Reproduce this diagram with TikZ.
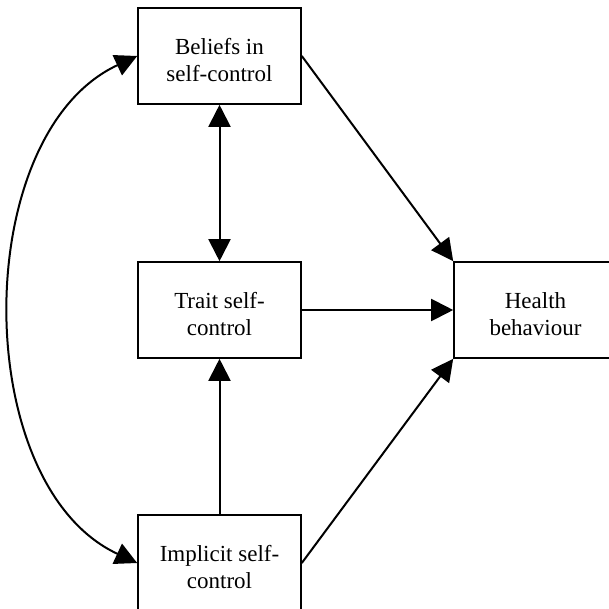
\documentclass[tikz,border=0pt]{standalone}
\usepackage{fontspec}
\setmainfont{Liberation Serif}
\usetikzlibrary{arrows.meta}

\begin{document}
\begin{tikzpicture}
[x=0.5pt,y=-0.5pt,
  boxDecorate/.style={shape=rectangle,draw,line width=0.8pt,minimum width=81.5pt,minimum height=48pt,
    inner sep=0pt,align=center,font=\fontsize{11.5}{13.5}\selectfont},
  lineDecorate/.style={line width=1pt,-{Triangle[length=11pt,width=11pt]}},
  bothDecorate/.style={line width=1pt,{Triangle[length=11pt,width=11pt]}-{Triangle[length=11pt,width=11pt]}}]
\useasboundingbox (0,0) rectangle (609,609);
%% boxes
\foreach \nodename/\x/\y/\txt in {
  bel/219.5/56/Beliefs in\\self-control,
  trait/219.5/310/Trait self-\\control,
  imp/219.5/563/Implicit self-\\control,
  health/535.5/310/Health\\behaviour}
{
  \node (\nodename) at (\x,\y) [boxDecorate] {\rule{0pt}{11.9pt}\txt};
}
%% arrows
\path
\foreach \startnode/\endnode/\kind in {
  bel.east/health.north west/lineDecorate, trait.east/health.west/lineDecorate,
  imp.east/health.south west/lineDecorate, imp.north/trait.south/lineDecorate,
  bel.south/trait.north/bothDecorate}
{
  (\startnode) edge[\kind] (\endnode)
};
%% curved link on the left
\draw[bothDecorate] (bel.west) .. controls +(-168,78) and +(-168,-78) .. (imp.west);
\end{tikzpicture}
\end{document}
